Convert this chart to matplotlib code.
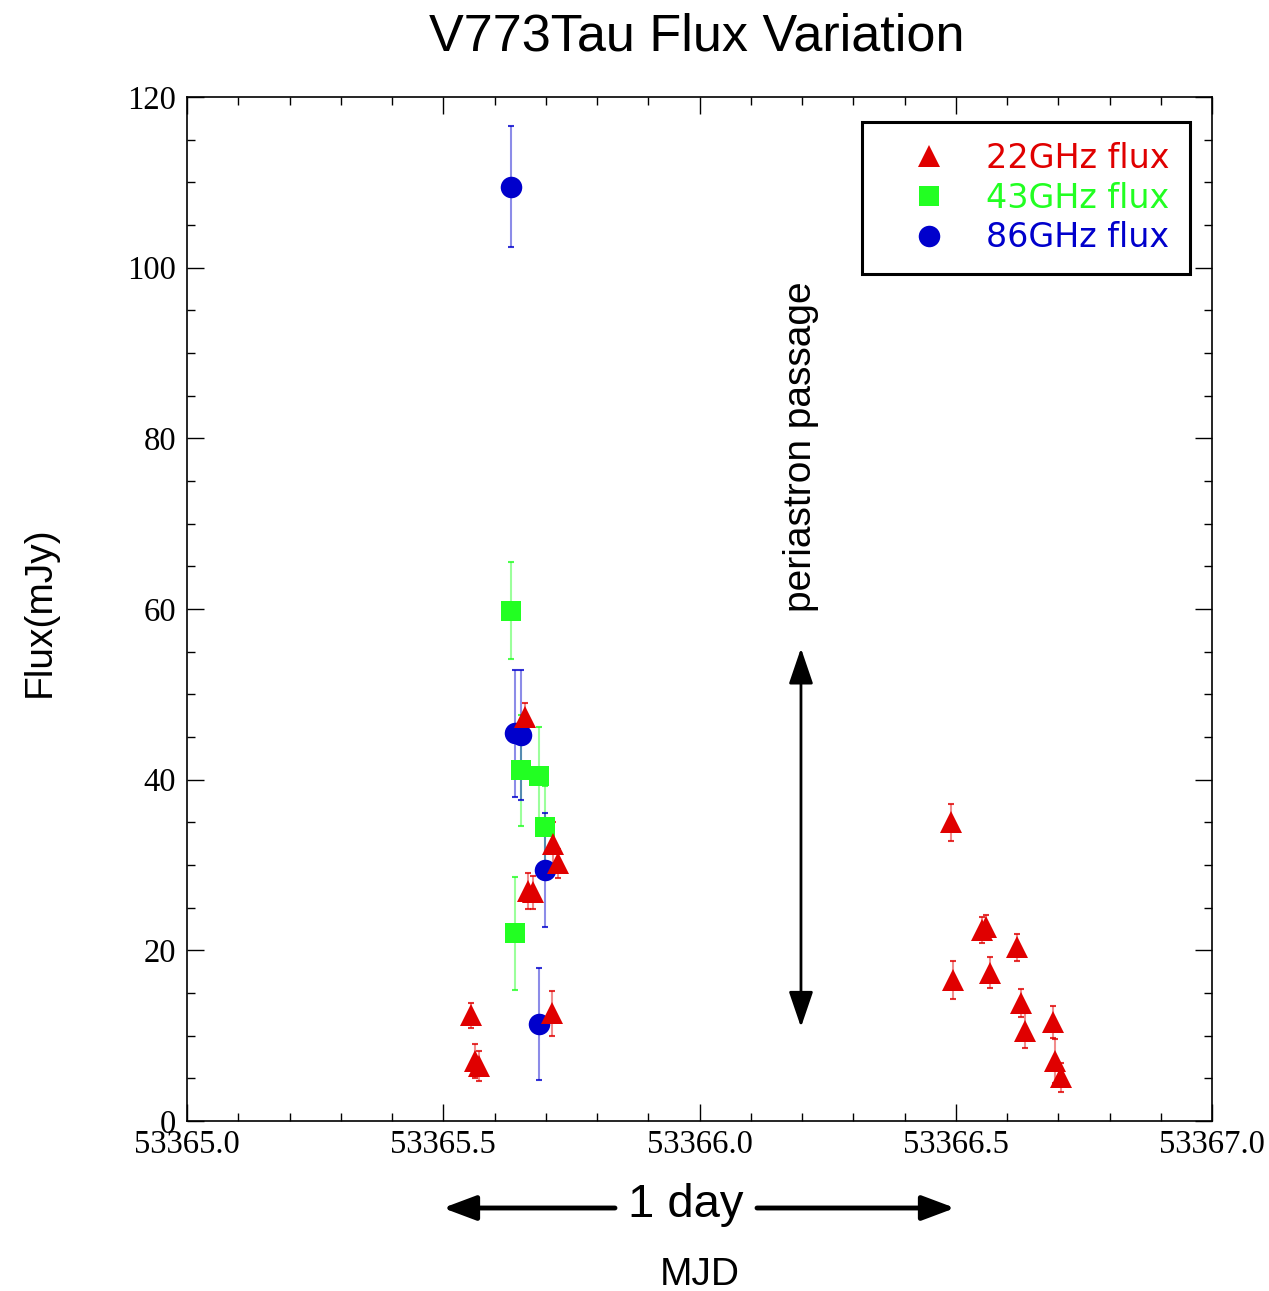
import matplotlib
matplotlib.use('Agg')
import matplotlib.pyplot as plt
from matplotlib.lines import Line2D
from matplotlib.ticker import MultipleLocator, FormatStrFormatter

# 22 GHz points
mjd_22 = [53365.554, 53365.562, 53365.570, 53365.660, 53365.666, 53365.676,
          53365.715, 53365.723, 53365.712,
          53366.491, 53366.551, 53366.559, 53366.620, 53366.495, 53366.566,
          53366.628, 53366.636, 53366.690, 53366.694, 53366.706]
flux_22 = [12.4, 7.0, 6.45, 47.3, 27.0, 26.8, 32.5, 30.2, 12.6,
           35.0, 22.4, 22.7, 20.35, 16.5, 17.4, 13.8, 10.6, 11.6, 7.0, 5.1]
err_22 = [1.45, 2.0, 1.8, 1.7, 2.1, 1.9, 2.5, 1.7, 2.6,
          2.2, 1.5, 1.4, 1.55, 2.25, 1.8, 1.65, 2.0, 1.85, 2.6, 1.7]

# 43 GHz points
mjd_43 = [53365.632, 53365.651, 53365.687, 53365.699, 53365.640]
flux_43 = [59.8, 41.1, 40.4, 34.4, 22.0]
err_43 = [5.7, 6.5, 5.8, 4.9, 6.6]

# 86 GHz points
mjd_86 = [53365.632, 53365.640, 53365.651, 53365.699, 53365.687]
flux_86 = [109.5, 45.45, 45.25, 29.4, 11.37]
err_86 = [7.1, 7.45, 7.65, 6.7, 6.6]

red = '#e00000'
green = '#22ff22'
blue = '#0000cc'

fig = plt.figure(figsize=(12.69, 12.91), dpi=100)
ax = fig.add_axes([187 / 1269, 1 - 1121 / 1291, 1025 / 1269, 1024 / 1291])


def plot_series(x, y, e, color, marker, ms):
    line, caps, bars = ax.errorbar(x, y, yerr=e, fmt=marker, color=color, ms=ms,
                                   ecolor=color, elinewidth=1.5, capsize=2.4,
                                   capthick=1.5)
    line.set_markeredgewidth(0)
    for b in bars:
        b.set_alpha(0.45)
    for c in caps:
        c.set_alpha(0.8)


plot_series(mjd_43, flux_43, err_43, green, 's', 15)
plot_series(mjd_86, flux_86, err_86, blue, 'o', 15.5)
plot_series(mjd_22, flux_22, err_22, red, '^', 16)

ax.set_xlim(53365.0, 53367.0)
ax.set_ylim(0, 120)
ax.xaxis.set_major_locator(MultipleLocator(0.5))
ax.xaxis.set_minor_locator(MultipleLocator(0.1))
ax.yaxis.set_major_locator(MultipleLocator(20))
ax.yaxis.set_minor_locator(MultipleLocator(5))
ax.xaxis.set_major_formatter(FormatStrFormatter('%.1f'))
ax.tick_params(which='both', direction='in', top=True, right=True)
ax.tick_params(which='major', length=12, width=1)
ax.tick_params(which='minor', length=6, width=1)
ax.tick_params(axis='y', pad=8)
ax.tick_params(axis='x', pad=6)
for lab in ax.get_xticklabels() + ax.get_yticklabels():
    lab.set_fontfamily('Liberation Serif')
    lab.set_fontsize(23.5)
for sp in ax.spines.values():
    sp.set_linewidth(1.2)

# periastron arrow
ax.annotate('', xy=(53366.198, 11.0), xytext=(53366.198, 55.4),
            arrowprops=dict(arrowstyle='<|-|>,head_length=2.2,head_width=0.75',
                            color='black', lw=2, shrinkA=0, shrinkB=0))
ax.text(53366.198, 79, 'periastron passage', rotation=90, ha='center', va='center',
        fontsize=28, family='Liberation Sans')

# legend
handles = [Line2D([], [], ls='none', marker='^', color=red, ms=16, mew=0),
           Line2D([], [], ls='none', marker='s', color=green, ms=14.5, mew=0),
           Line2D([], [], ls='none', marker='o', color=blue, ms=15.5, mew=0)]
leg = ax.legend(handles, ['22GHz flux', '43GHz flux', '86GHz flux'],
                loc='upper right', bbox_to_anchor=(1190 / 1269, 1 - 122 / 1291),
                bbox_transform=fig.transFigure, borderaxespad=0,
                prop={'family': 'DejaVu Sans', 'size': 24},
                labelcolor=[red, green, blue], handlelength=2.85, handletextpad=0.3,
                borderpad=0.6, labelspacing=0.2, fancybox=False, framealpha=1)
leg.get_frame().set_edgecolor('black')
leg.get_frame().set_linewidth(2.2)

# title and labels
fig.text(697 / 1269, 1 - 37 / 1291, 'V773Tau Flux Variation', ha='center', va='center',
         fontsize=37.5, family='Liberation Sans')
fig.text(40 / 1269, 1 - 612 / 1291, 'Flux(mJy)', rotation=90, ha='center', va='center',
         fontsize=28, family='Liberation Sans')
fig.text(700 / 1269, 1 - 1275 / 1291, 'MJD', ha='center', va='center',
         fontsize=28, family='Liberation Sans')
fig.text(686 / 1269, 1 - 1205 / 1291, '1 day', ha='center', va='center',
         fontsize=34, family='Liberation Sans')

arrow_style = dict(arrowstyle='-|>,head_length=2.0,head_width=0.75', color='black',
                   lw=3.5, shrinkA=0, shrinkB=0)
ay = 1 - 1208 / 1291
ax.annotate('', xy=(443 / 1269, ay), xytext=(615 / 1269, ay), xycoords='figure fraction',
            textcoords='figure fraction', arrowprops=arrow_style, annotation_clip=False)
ax.annotate('', xy=(955 / 1269, ay), xytext=(757 / 1269, ay), xycoords='figure fraction',
            textcoords='figure fraction', arrowprops=arrow_style, annotation_clip=False)

fig.savefig('out.png', dpi=100)
